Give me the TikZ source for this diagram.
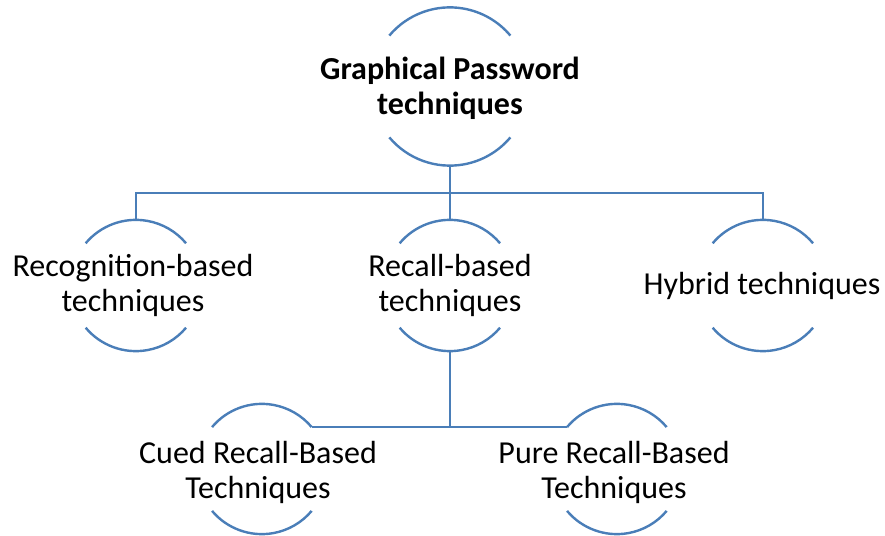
\documentclass[tikz,border=0pt]{standalone}
\usepackage{fontspec}
\setmainfont{Carlito}
\usetikzlibrary{calc}
\definecolor{ringblue}{RGB}{74,126,184}
\tikzset{
	ln/.style={draw=ringblue,line width=2.4pt},
	ring/.style={circle,draw=none,inner sep=0pt,minimum size=#1},
	lbl/.style={align=center,inner sep=0pt,font=\fontsize{32}{35}\selectfont},
	ttl/.style={align=center,inner sep=0pt,font=\fontsize{32}{35}\selectfont\bfseries},
}
% top and bottom arcs of a ring node
\newcommand\ringarcs[2]{%
	\draw[ln] (#1.140) arc [start angle=140, end angle=40, radius=#2pt];
	\draw[ln] (#1.220) arc [start angle=220, end angle=320, radius=#2pt];}
\begin{document}
\begin{tikzpicture}[x=1pt,y=1pt]
			\useasboundingbox (0,0) rectangle (885,535);
			%		\draw[dashed] (0,0) grid[step=50] (885,535);
			\coordinate (bar) at (0,342);
			\node[ring=158] (gpC) at (450,448.5) {};
			\node[ring=131] (recogC) at (136,249.5) {};
			\node[ring=131] (recallC) at (450,249.5) {};
			\node[ring=131] (hybC) at (763,249.5) {};
			\node[ring=130] (cuedC) at (262,66) {};
			\node[ring=130] (pureC) at (617,66) {};
			\ringarcs{gpC}{79}
			\ringarcs{recogC}{65.5}
			\ringarcs{recallC}{65.5}
			\ringarcs{hybC}{65.5}
			\ringarcs{cuedC}{65}
			\ringarcs{pureC}{65}
			\node[ttl] (gp) at ($(gpC)+(0,-2)$) {Graphical Password\\techniques};
			\node[lbl] (recog) at ($(recogC)+(-3,0)$) {Recognition-based\\techniques};
			\node[lbl] (recall) at (recallC) {Recall-based\\techniques};
			\node[lbl] (hyb) at ($(hybC)+(-1,0)$) {Hybrid techniques};
			\node[lbl] (cued) at ($(cuedC)+(-4,-3)$) {Cued Recall-Based\\Techniques};
			\node[lbl] (pure) at ($(pureC)+(-3,-3)$) {Pure Recall-Based\\Techniques};
			\draw[ln] (gpC.south) -- (gpC.south |- bar);
			\draw[ln] (recogC.north) |- (hybC.north |- bar) -- (hybC.north);
			\draw[ln] (recallC.north) -- (recallC.north |- bar);
			\draw[ln] (recallC.south) |- (cuedC.40);
			\draw[ln] (recallC.south) |- (pureC.140);
		\end{tikzpicture}
\end{document}
